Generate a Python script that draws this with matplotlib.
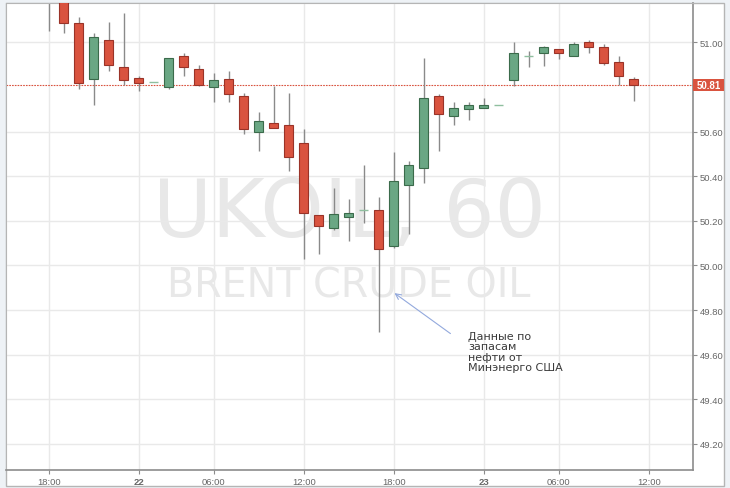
import matplotlib
matplotlib.use("Agg")
import matplotlib.pyplot as plt
from matplotlib.patches import Rectangle

# hourly UKOIL candles, one per bar (night hour missing)
opens = [51.22, 51.20, 51.089, 50.838, 51.011, 50.891, 50.839, 50.821, 50.800, 50.939,
         50.880, 50.800, 50.838, 50.760, 50.599, 50.640, 50.630, 50.551, 50.228, 50.168,
         50.216, 50.248, 50.248, 50.086, 50.360, 50.437, 50.759, 50.670, 50.700, 50.706,
         50.718, 50.830, 50.939, 50.952, 50.970, 50.939, 51.001, 50.981, 50.911, 50.838]
highs = [51.30, 51.22, 51.113, 51.041, 51.091, 51.132, 50.851, 50.823, 50.930, 50.954,
         50.899, 50.863, 50.871, 50.772, 50.690, 50.804, 50.772, 50.611, 50.228, 50.349,
         50.297, 50.451, 50.307, 50.510, 50.469, 50.929, 50.770, 50.732, 50.733, 50.750,
         50.718, 51.001, 50.963, 50.982, 50.971, 51.001, 51.010, 50.992, 50.939, 50.847]
lows = [51.053, 51.044, 50.791, 50.721, 50.871, 50.811, 50.781, 50.821, 50.791, 50.851,
        50.804, 50.732, 50.733, 50.591, 50.512, 50.615, 50.422, 50.029, 50.050, 50.161,
        50.109, 50.191, 49.700, 50.080, 50.141, 50.371, 50.512, 50.631, 50.651, 50.705,
        50.718, 50.804, 50.891, 50.893, 50.925, 50.939, 50.954, 50.900, 50.811, 50.739]
closes = [51.20, 51.087, 50.820, 51.022, 50.898, 50.830, 50.820, 50.822, 50.929, 50.890,
          50.808, 50.830, 50.770, 50.611, 50.648, 50.618, 50.488, 50.237, 50.176, 50.230,
          50.237, 50.248, 50.074, 50.378, 50.449, 50.750, 50.678, 50.708, 50.718, 50.720,
          50.718, 50.952, 50.939, 50.981, 50.952, 50.992, 50.981, 50.909, 50.850, 50.808]

tick_pos = [0, 6, 11, 17, 23, 29, 34, 40]
tick_labels = ["18:00", "22", "06:00", "12:00", "18:00", "23", "06:00", "12:00"]
price_ticks = [49.2, 49.4, 49.6, 49.8, 50.0, 50.2, 50.4, 50.6, 51.0]
last_price = 50.81

RED = "#d9533f"
RED_EDGE = "#9a3328"
GREEN = "#6aa784"
GREEN_EDGE = "#3b6b4b"
DOJI = "#8fbf9f"
WICK = "#8a8a8a"

fig = plt.figure(figsize=(7.3, 4.89), dpi=100, facecolor="#eef2f6")
W, H = 730, 489

# white card behind the chart
fig.patches.append(Rectangle((5.7 / W, (H - 486.7) / H), (724 - 5.7) / W, (486.7 - 3.7) / H,
                             transform=fig.transFigure, facecolor="white",
                             edgecolor="#b5b5b5", lw=1, zorder=-5))

ax = fig.add_axes([5.7 / W, (H - 470.7) / H, (692.7 - 5.7) / W, (470.7 - 3.7) / H])
ax.set_facecolor("white")
ax.set_xlim(-2.87, 42.93)
ax.set_ylim(49.084, 51.178)

for s in ["left", "top"]:
    ax.spines[s].set_color("#b5b5b5")
for s in ["right", "bottom"]:
    ax.spines[s].set_color("#8c8c8c")
    ax.spines[s].set_linewidth(1.2)

ax.set_xticks(tick_pos)
ax.set_xticklabels(tick_labels)
for lbl, t in zip(ax.get_xticklabels(), tick_labels):
    if ":" not in t:
        lbl.set_fontweight("bold")
ax.yaxis.tick_right()
ax.set_yticks(price_ticks)
ax.set_yticklabels([f"{p:.2f}" for p in price_ticks])
ax.tick_params(axis="both", labelsize=6.8, colors="#8c8c8c", labelcolor="#666666",
               length=3, width=0.8, pad=2)
for lbl in ax.get_xticklabels() + ax.get_yticklabels():
    lbl.set_fontfamily("Liberation Sans")

ax.grid(True, color="#e9e9e9", lw=1)
ax.set_axisbelow(True)

# watermark
ax.text(0.5, 0.501, "UKOIL, 60", transform=ax.transAxes, ha="center", va="baseline",
        fontsize=58, color="#e8e8e8", family="DejaVu Sans", zorder=0.5)
ax.text(0.5, 0.3704, "BRENT CRUDE OIL", transform=ax.transAxes, ha="center", va="baseline",
        fontsize=28.5, color="#e8e8e8", family="DejaVu Sans", zorder=0.5)

# candles
for i, (o, h, l, c) in enumerate(zip(opens, highs, lows, closes)):
    if h > l:
        ax.vlines(i, l, h, color=WICK, lw=1, zorder=2)
    if abs(c - o) < 0.005:
        ax.hlines(c, i - 0.3, i + 0.3, color=DOJI, lw=1, zorder=3)
        continue
    up = c > o
    ax.bar(i, abs(c - o), bottom=min(o, c), width=0.6,
           color=GREEN if up else RED, edgecolor=GREEN_EDGE if up else RED_EDGE,
           lw=0.8, zorder=3)

# last price line and label
ax.axhline(last_price, color="#d9533f", lw=0.8, ls=(0, (1.5, 1)), zorder=1)
ytr = ax.get_yaxis_transform()
ax.add_patch(Rectangle((1.0, last_price - 0.0276), 0.0456, 0.0552, transform=ytr,
                       facecolor="#d9533f", edgecolor="none", clip_on=False, zorder=5))
ax.text(1.0228, last_price, f"{last_price:.2f}", transform=ytr,
        ha="center", va="center", fontsize=7, fontweight="bold", color="white",
        family="Liberation Sans", clip_on=False, zorder=6)

# annotation
ax.annotate("", xy=(22.9, 49.883), xytext=(26.93, 49.687),
            arrowprops=dict(arrowstyle="->", color="#93a9dd", lw=0.8))
ax.text(27.95, 49.708, "Данные по\nзапасам\nнефти от\nМинэнерго США",
        ha="left", va="top", fontsize=8, color="#3a3a3a", linespacing=1.08)

fig.savefig("out.png", dpi=100, facecolor=fig.get_facecolor())
